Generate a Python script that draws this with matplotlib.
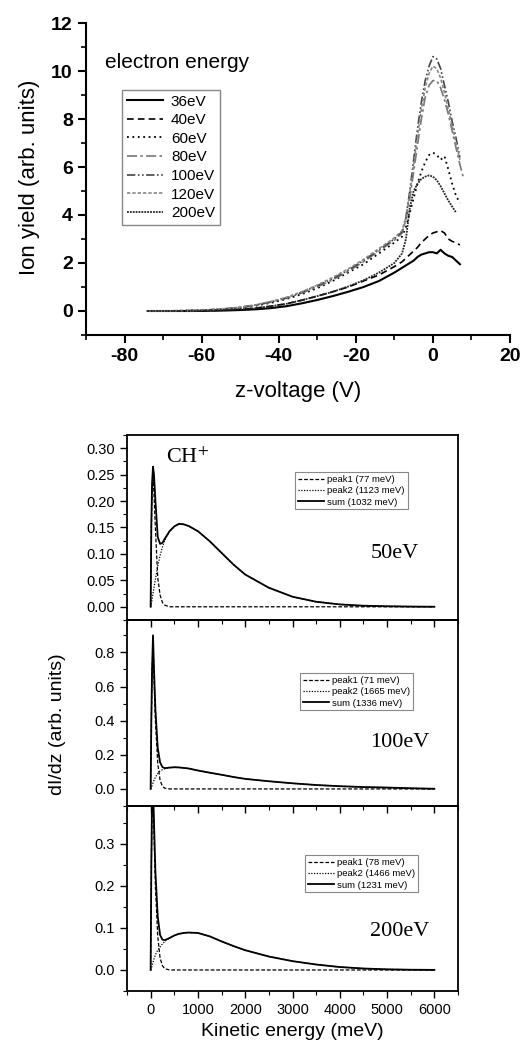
import numpy as np
import matplotlib
matplotlib.use("Agg")
import matplotlib.pyplot as plt
from matplotlib.ticker import MultipleLocator, FormatStrFormatter

plt.rcParams['font.family'] = ['Liberation Sans', 'DejaVu Sans']
plt.rcParams['mathtext.fontset'] = 'stix'
plt.rcParams['axes.unicode_minus'] = False

nan = np.nan

# ---- top panel: ion yield vs z-voltage ----
zvolt = [-74, -70, -66, -62, -58, -54, -50, -46, -42, -38, -34, -30, -26, -22, -18, -14,
         -10, -8, -7, -6, -5, -4, -3, -2, -1, 0, 1, 2, 3, 4, 5, 6, 7, 8]

y36 = [0, 0, 0, 0, 0.01, 0.02, 0.04, 0.07, 0.12, 0.2, 0.32, 0.46, 0.62, 0.8, 1.0, 1.25,
       1.6, 1.8, 1.9, 2.0, 2.1, 2.25, 2.35, 2.4, 2.45, 2.45, 2.4, 2.55, 2.4, 2.3, 2.25, 2.1, 1.95, nan]
y40 = [0, 0, 0, 0.01, 0.02, 0.04, 0.07, 0.12, 0.2, 0.3, 0.45, 0.62, 0.8, 1.0, 1.25, 1.5,
       1.85, 2.05, 2.2, 2.35, 2.5, 2.65, 2.85, 3.0, 3.15, 3.25, 3.3, 3.35, 3.25, 3.0, 2.9, 2.85, 2.75, nan]
y60 = [0, 0, 0.01, 0.02, 0.04, 0.08, 0.14, 0.22, 0.34, 0.5, 0.7, 0.95, 1.25, 1.6, 1.95, 2.4,
       2.85, 3.1, 3.5, 4.1, 4.7, 5.3, 5.8, 6.2, 6.5, 6.6, 6.5, 6.3, 6.45, 5.9, 5.3, 4.8, 4.5, nan]
y80 = [0, 0, 0.01, 0.02, 0.05, 0.09, 0.15, 0.24, 0.37, 0.53, 0.75, 1.0, 1.3, 1.65, 2.05, 2.5,
       2.95, 3.25, 3.8, 4.7, 5.8, 6.9, 8.0, 8.9, 9.4, 9.6, 9.6, 9.3, 8.8, 8.2, 7.5, 6.8, 6.1, 5.5]
y100 = [0, 0, 0.01, 0.02, 0.05, 0.09, 0.15, 0.25, 0.38, 0.55, 0.78, 1.05, 1.35, 1.7, 2.1, 2.55,
        3.0, 3.3, 3.9, 5.0, 6.3, 7.6, 8.7, 9.6, 10.2, 10.6, 10.5, 10.1, 9.4, 8.7, 7.9, 7.2, 6.4, nan]
y120 = [0, 0, 0.01, 0.02, 0.05, 0.1, 0.16, 0.26, 0.4, 0.57, 0.8, 1.08, 1.4, 1.75, 2.15, 2.6,
        3.05, 3.35, 3.9, 4.9, 6.1, 7.3, 8.4, 9.3, 9.9, 10.2, 10.1, 9.7, 9.1, 8.4, 7.7, 7.0, 6.3, nan]
y200 = [0, 0, 0, 0.01, 0.02, 0.04, 0.07, 0.12, 0.2, 0.3, 0.45, 0.62, 0.8, 1.02, 1.28, 1.6,
        2.0, 2.4, 3.0, 4.3, 5.0, 5.3, 5.5, 5.6, 5.65, 5.6, 5.45, 5.2, 4.9, 4.6, 4.35, 4.1, nan, nan]

energy_labels = ['36eV', '40eV', '60eV', '80eV', '100eV', '120eV', '200eV']

# ---- lower panels: dI/dz vs kinetic energy ----
ke = [0, 15, 30, 50, 70, 100, 150, 200, 250, 300, 400, 500, 600, 700, 800, 1000,
      1250, 1500, 1750, 2000, 2500, 3000, 3500, 4000, 4500, 5000, 5500, 6000]

p1_50 = [0, 0.15, 0.22, 0.24, 0.215, 0.15, 0.055, 0.022, 0.008, 0.003, 0, 0, 0, 0, 0, 0,
         0, 0, 0, 0, 0, 0, 0, 0, 0, 0, 0, 0]
p2_50 = [0, 0.006, 0.014, 0.025, 0.036, 0.052, 0.077, 0.097, 0.113, 0.126, 0.143, 0.152, 0.157,
         0.156, 0.153, 0.143, 0.124, 0.102, 0.080, 0.061, 0.036, 0.019, 0.0095, 0.0045, 0.002,
         0.001, 0.0004, 0.0001]
sum_50 = [0, 0.156, 0.234, 0.265, 0.251, 0.202, 0.132, 0.119, 0.121, 0.129, 0.143, 0.152, 0.157,
          0.156, 0.153, 0.143, 0.124, 0.102, 0.080, 0.061, 0.036, 0.019, 0.0095, 0.0045, 0.002,
          0.001, 0.0004, 0.0001]

p1_100 = [0, 0.4, 0.68, 0.86, 0.66, 0.4, 0.15, 0.05, 0.015, 0.004, 0, 0, 0, 0, 0, 0,
          0, 0, 0, 0, 0, 0, 0, 0, 0, 0, 0, 0]
p2_100 = [0, 0.01, 0.02, 0.035, 0.05, 0.068, 0.09, 0.105, 0.113, 0.118, 0.125, 0.127, 0.126,
          0.123, 0.12, 0.108, 0.095, 0.083, 0.07, 0.059, 0.045, 0.033, 0.023, 0.016, 0.011,
          0.008, 0.004, 0.001]
sum_100 = [0, 0.41, 0.7, 0.9, 0.71, 0.47, 0.24, 0.155, 0.128, 0.122, 0.125, 0.127, 0.126,
           0.123, 0.12, 0.108, 0.095, 0.083, 0.07, 0.059, 0.045, 0.033, 0.023, 0.016, 0.011,
           0.008, 0.004, 0.001]

p1_200 = [0, 0.25, 0.4, 0.42, 0.33, 0.2, 0.08, 0.028, 0.01, 0.003, 0, 0, 0, 0, 0, 0,
          0, 0, 0, 0, 0, 0, 0, 0, 0, 0, 0, 0]
p2_200 = [0, 0.004, 0.01, 0.018, 0.026, 0.036, 0.047, 0.055, 0.062, 0.068, 0.076, 0.082, 0.086,
          0.088, 0.089, 0.088, 0.08, 0.068, 0.057, 0.047, 0.032, 0.021, 0.013, 0.007, 0.0035,
          0.0015, 0.0006, 0.0002]
sum_200 = [0, 0.254, 0.41, 0.438, 0.356, 0.236, 0.127, 0.083, 0.072, 0.071, 0.076, 0.082, 0.086,
           0.088, 0.089, 0.088, 0.08, 0.068, 0.057, 0.047, 0.032, 0.021, 0.013, 0.007, 0.0035,
           0.0015, 0.0006, 0.0002]

panel_energy = ['50eV', '100eV', '200eV']
peak_labels = [['peak1 (77 meV)', 'peak2 (1123 meV)', 'sum (1032 meV)'],
               ['peak1 (71 meV)', 'peak2 (1665 meV)', 'sum (1336 meV)'],
               ['peak1 (78 meV)', 'peak2 (1466 meV)', 'sum (1231 meV)']]

W, H = 526, 1042
fig = plt.figure(figsize=(W / 100, H / 100), dpi=100)

# ---------------- top plot ----------------
ax = fig.add_axes([86 / W, 1 - 335 / H, 424 / W, 312 / H])
styles = [
    dict(color='black', ls='-', lw=1.5),
    dict(color='black', ls=(0, (4, 2.5)), lw=1.2),
    dict(color='black', ls=(0, (1, 2)), lw=1.3),
    dict(color='#777777', ls=(0, (6, 2, 1.5, 2)), lw=1.2),
    dict(color='#444444', ls=(0, (5, 1.5, 1, 1.5, 1, 1.5)), lw=1.2),
    dict(color='#888888', ls=(0, (2, 1.2)), lw=1.2),
    dict(color='#222222', ls=(0, (1, 0.6)), lw=1.3),
]
for ys, lab, st in zip([y36, y40, y60, y80, y100, y120, y200], energy_labels, styles):
    ax.plot(zvolt, ys, label=lab, **st)

ax.set_xlim(-90, 20)
ax.set_ylim(-1, 12)
ax.spines['top'].set_visible(False)
ax.spines['right'].set_visible(False)
for s in ['left', 'bottom']:
    ax.spines[s].set_linewidth(1.5)
ax.xaxis.set_major_locator(MultipleLocator(20))
ax.xaxis.set_minor_locator(MultipleLocator(10))
ax.yaxis.set_major_locator(MultipleLocator(2))
ax.yaxis.set_minor_locator(MultipleLocator(1))
ax.tick_params(which='major', direction='out', length=6, width=1.5, labelsize=14)
ax.tick_params(which='minor', direction='out', length=3.5, width=1.2)
for t in ax.get_xticklabels() + ax.get_yticklabels():
    t.set_fontweight('bold')
ax.text(105 / W, 1 - 63 / H, 'electron energy', transform=fig.transFigure,
        fontsize=15, ha='left', va='center')
leg = ax.legend(loc='upper left', bbox_to_anchor=(0.085, 0.785), fontsize=11,
                frameon=True, fancybox=False, edgecolor='#888888', framealpha=1,
                handlelength=2.4, handletextpad=0.5, labelspacing=0.3, borderpad=0.3,
                borderaxespad=0)
leg.get_frame().set_linewidth(1.0)
fig.text(30 / W, 1 - 177 / H, 'Ion yield (arb. units)', rotation=90, fontsize=16,
         ha='center', va='center')
fig.text(298 / W, 1 - 392 / H, 'z-voltage (V)', fontsize=16, ha='center', va='center')

# ---------------- lower stacked plots ----------------
panels = [
    dict(bottom=620, top=435, p1=p1_50, p2=p2_50, s=sum_50, ylim=(-0.025, 0.325),
         major=0.05, minor=0.025, fmt='%.2f', leg=(0.508, 0.80), txt=(0.81, 0.36)),
    dict(bottom=806, top=620, p1=p1_100, p2=p2_100, s=sum_100, ylim=(-0.1, 0.99),
         major=0.2, minor=0.1, fmt='%.1f', leg=(0.523, 0.715), txt=(0.825, 0.34)),
    dict(bottom=991, top=806, p1=p1_200, p2=p2_200, s=sum_200, ylim=(-0.05, 0.39),
         major=0.1, minor=0.05, fmt='%.1f', leg=(0.538, 0.735), txt=(0.825, 0.32)),
]

for i, pn in enumerate(panels):
    a = fig.add_axes([127 / W, 1 - pn['bottom'] / H, 331 / W, (pn['bottom'] - pn['top']) / H])
    a.patch.set_visible(False)
    a.plot(ke, pn['p1'], color='black', ls=(0, (3, 1.5)), lw=0.9, label=peak_labels[i][0])
    a.plot(ke, pn['p2'], color='black', ls=(0, (1, 1.2)), lw=0.9, label=peak_labels[i][1])
    a.plot(ke, pn['s'], color='black', ls='-', lw=1.3, label=peak_labels[i][2])
    a.set_xlim(-500, 6500)
    a.set_ylim(*pn['ylim'])
    for s in a.spines.values():
        s.set_linewidth(1.3)
    a.xaxis.set_major_locator(MultipleLocator(1000))
    a.xaxis.set_minor_locator(MultipleLocator(500))
    a.yaxis.set_major_locator(MultipleLocator(pn['major']))
    a.yaxis.set_minor_locator(MultipleLocator(pn['minor']))
    a.yaxis.set_major_formatter(FormatStrFormatter(pn['fmt']))
    a.tick_params(which='major', direction='out', length=5, width=1.0, labelsize=10.5)
    a.tick_params(which='minor', direction='out', length=3, width=0.8)
    if i < 2:
        a.tick_params(axis='x', labelbottom=False)
    lg = a.legend(loc='upper left', bbox_to_anchor=pn['leg'], fontsize=6.8, frameon=True,
                  fancybox=False, edgecolor='#888888', framealpha=1, handlelength=2.8,
                  handletextpad=0.3, labelspacing=0.25, borderpad=0.3, borderaxespad=0)
    lg.get_frame().set_linewidth(0.8)
    a.text(pn['txt'][0], pn['txt'][1], panel_energy[i], transform=a.transAxes,
           fontsize=16, family=['Liberation Serif', 'DejaVu Serif'], ha='center', va='center')
    if i == 0:
        a.text(0.118, 0.876, 'CH$^{+}$', transform=a.transAxes, fontsize=16,
               family=['Liberation Serif', 'DejaVu Serif'], ha='left', va='center')

fig.text(58 / W, 1 - 724 / H, 'dI/dz (arb. units)', rotation=90, fontsize=14,
         ha='center', va='center')
fig.text(292 / W, 1 - 1031 / H, 'Kinetic energy (meV)', fontsize=14, ha='center', va='center')

fig.savefig('out.png', dpi=100)
